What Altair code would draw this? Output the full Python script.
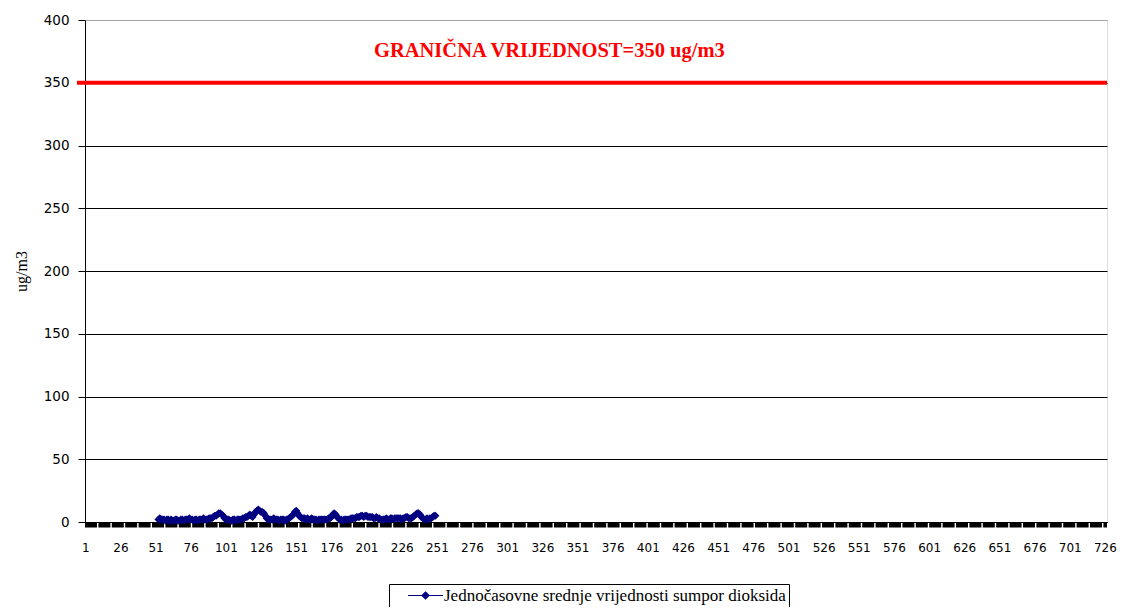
import altair as alt
import pandas as pd

# ---- data ----
start_hour = 53
so2_values = [
    2, 3, 2, 2, 2, 1, 2, 2, 1, 2, 1, 1, 2, 2, 1, 1, 2, 2, 1, 2,
    2, 2, 3, 2, 2, 1, 2, 2, 1, 2, 2, 2, 3, 2, 2, 2, 3, 3, 3, 4,
    5, 5, 6, 7, 7, 6, 5, 3, 2, 2, 2, 1, 1, 2, 2, 1, 2, 2, 2, 2,
    3, 3, 4, 4, 5, 6, 5, 4, 6, 8, 9, 10, 9, 8, 8, 7, 5, 3, 2, 2,
    2, 2, 3, 2, 2, 2, 1, 2, 2, 2, 1, 2, 2, 3, 4, 5, 6, 8, 9, 7,
    5, 4, 3, 3, 3, 2, 3, 2, 2, 3, 2, 2, 2, 1, 2, 2, 2, 2, 2, 2,
    2, 3, 3, 4, 6, 7, 6, 4, 3, 2, 2, 1, 2, 2, 2, 2, 2, 3, 3, 3,
    3, 4, 4, 4, 5, 5, 4, 5, 5, 4, 4, 4, 4, 3, 3, 4, 3, 3, 2, 2,
    2, 2, 3, 2, 2, 3, 3, 2, 3, 3, 3, 3, 3, 2, 3, 3, 4, 4, 3, 3,
    3, 4, 5, 6, 7, 7, 6, 4, 3, 2, 2, 3, 2, 3, 3, 4, 5, 5,
]
hours = list(range(start_hour, start_hour + len(so2_values)))
series_name = "Jednočasovne srednje vrijednosti sumpor dioksida"
x_ticks = list(range(1, 727, 25))
y_ticks = [0, 50, 100, 150, 200, 250, 300, 350, 400]
limit_value = 350
limit_label = "GRANIČNA VRIJEDNOST=350 ug/m3"
x_domain = [0.8, 727.5]

df = pd.DataFrame({"sat": hours, "vrijednost": so2_values, "serija": series_name})

W, H = 1022, 502
sans = "DejaVu Sans"
serif = "Liberation Serif"

x_scale = alt.Scale(domain=x_domain, nice=False, zero=False)
y_scale = alt.Scale(domain=[0, 400], nice=False)

x_axis = alt.Axis(values=x_ticks, title=None, grid=False, ticks=False,
                  domain=True, domainColor="black", labelFont=sans, labelFontSize=12,
                  labelColor="black", labelPadding=20, labelFlush=False,
                  labelOverlap=False, labelBound=False)
y_axis = alt.Axis(values=y_ticks, title="ug/m3", grid=True,
                  gridColor={"condition": {"test": "datum.value == 400", "value": "#a0a0a0"},
                             "value": "black"},
                  gridOpacity=1, tickColor="black", tickSize=7, domainColor="black",
                  labelFont=sans, labelFontSize=13.5, labelColor="black", labelPadding=9,
                  labelFlush=False,
                  titleFont=serif, titleFontSize=16, titleFontWeight="normal",
                  titleColor="black", titlePadding=14)

# black band along the x axis (dense category ticks)
band = alt.Chart(pd.DataFrame({"a": [x_domain[0]], "b": [x_domain[1]], "y": [0]})).mark_rule(
    color="black", strokeWidth=5, strokeDash=[12, 1.4], yOffset=3
).encode(
    x=alt.X("a:Q", scale=x_scale, axis=x_axis),
    x2="b:Q",
    y=alt.Y("y:Q", scale=y_scale, axis=y_axis),
)

limit = alt.Chart(pd.DataFrame({"y": [limit_value]})).mark_rule(
    color="#ff0000", strokeWidth=4
).encode(
    x=alt.value(-8), x2=alt.value(W),
    y=alt.Y("y:Q", scale=y_scale, axis=y_axis),
)

limit_text = alt.Chart(pd.DataFrame({"x": [331], "y": [375], "t": [limit_label]})).mark_text(
    color="#ff0000", font=serif, fontSize=20.5, fontWeight="bold", baseline="middle", align="center"
).encode(
    x=alt.X("x:Q", scale=x_scale, axis=x_axis),
    y=alt.Y("y:Q", scale=y_scale, axis=y_axis),
    text="t:N",
)

legend_symbol = "M-5,0L5,0M0,-1L1,0L0,1L-1,0Z"

line = alt.Chart(df).mark_line(strokeWidth=2.5).encode(
    x=alt.X("sat:Q", scale=x_scale, axis=x_axis),
    y=alt.Y("vrijednost:Q", scale=y_scale, axis=y_axis),
    color=alt.Color("serija:N", scale=alt.Scale(range=["#000080"]),
                    legend=alt.Legend(title=None, orient="none", legendX=304, legendY=564,
                                      strokeColor="black", fillColor="white", padding=3,
                                      cornerRadius=0, symbolType=legend_symbol,
                                      symbolSize=49, symbolStrokeWidth=1.2,
                                      symbolFillColor="#000080", symbolStrokeColor="#000080",
                                      symbolOffset=25, labelOffset=10,
                                      labelFont=serif, labelFontSize=17, labelColor="black",
                                      labelLimit=500)),
)

points = alt.Chart(df).mark_point(shape="diamond", filled=True, size=64, opacity=1,
                                  color="#000080").encode(
    x=alt.X("sat:Q", scale=x_scale, axis=x_axis),
    y=alt.Y("vrijednost:Q", scale=y_scale, axis=y_axis),
)

chart = alt.layer(band, limit, limit_text, line, points).properties(
    width=W, height=H,
    autosize=alt.AutoSizeParams(type="none"),
    padding={"left": 77, "top": 12, "right": 10, "bottom": 85},
).configure_view(stroke=None).configure_axisX(labelOverlap=False).configure(background="white")

chart.save("out.html", embed_options={"renderer": "svg", "actions": False})
